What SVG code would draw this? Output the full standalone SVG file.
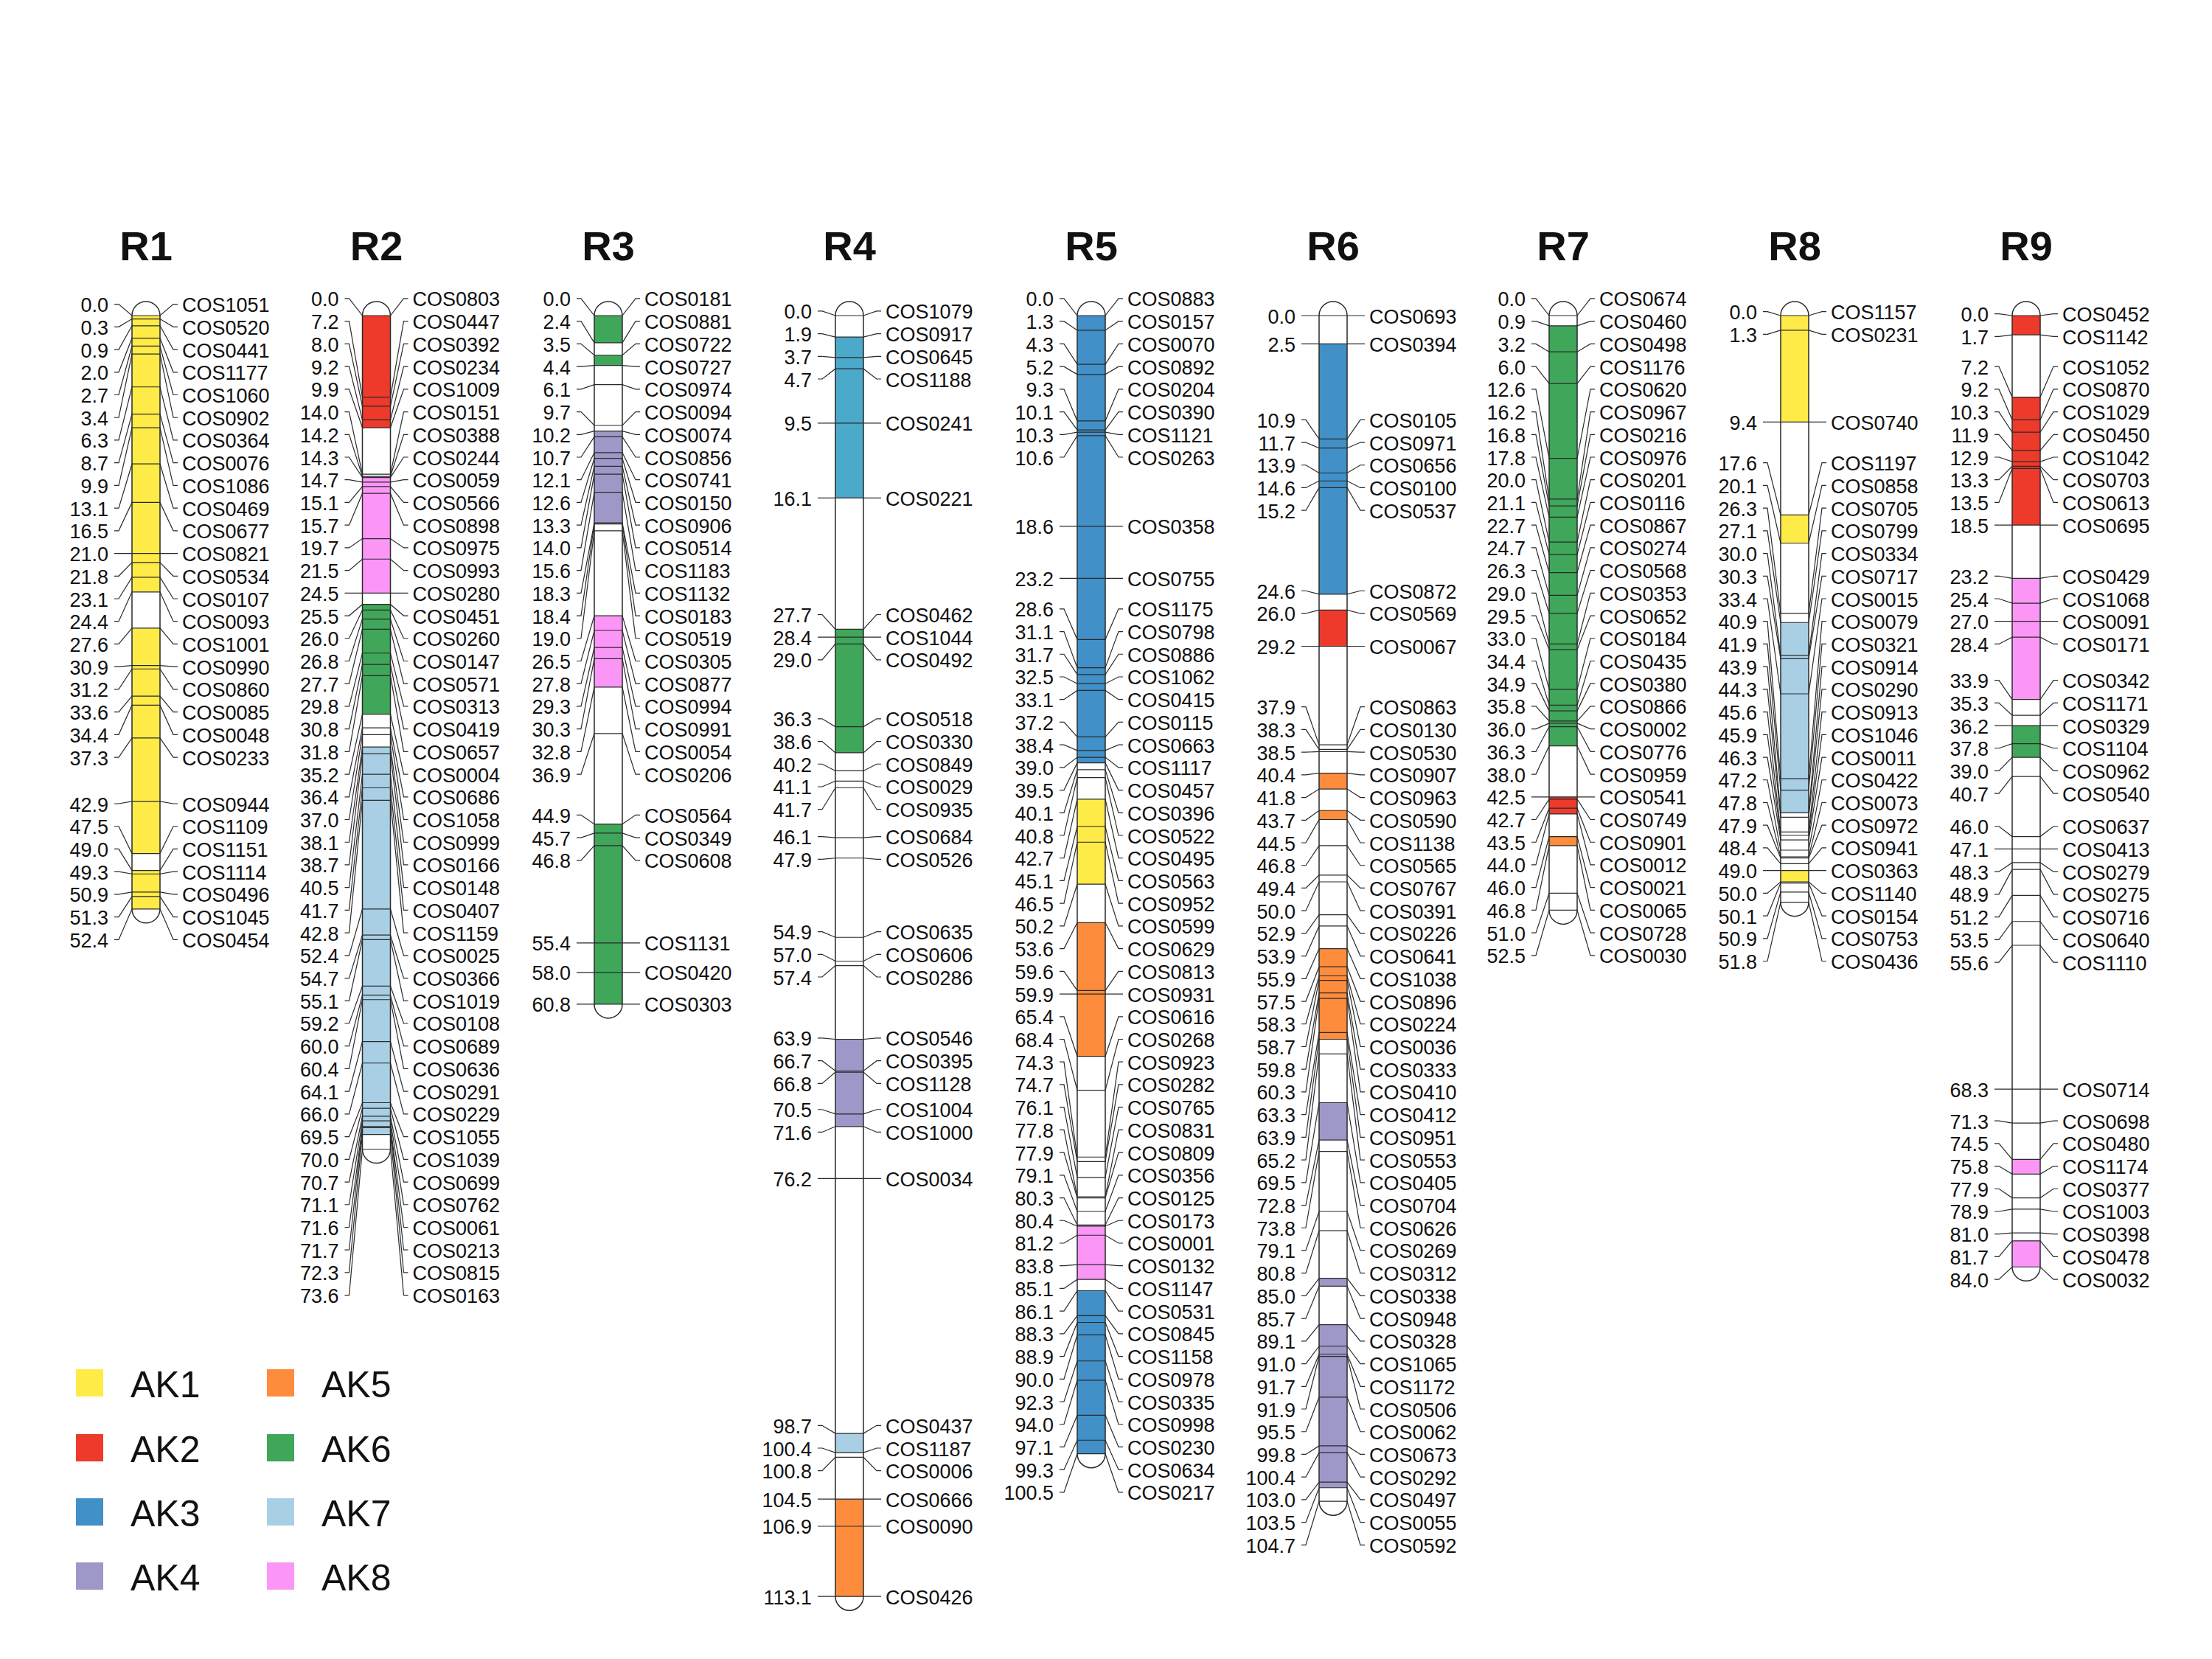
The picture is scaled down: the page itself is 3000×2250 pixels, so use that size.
<svg xmlns="http://www.w3.org/2000/svg" width="3000" height="2250" viewBox="0 0 3000 2250">
<style>
.lbl{font-family:"Liberation Sans",Arial,sans-serif;font-size:27px;fill:#111}
.l{text-anchor:end}
.ttl{font-family:"Liberation Sans",Arial,sans-serif;font-size:56px;font-weight:bold;text-anchor:middle;fill:#111}
.leg{font-family:"Liberation Sans",Arial,sans-serif;font-size:50px;fill:#111}
.ln path{fill:none;stroke:#2a2a2a;stroke-width:1.2;vector-effect:non-scaling-stroke}
.bar{fill:none;stroke:#2a2a2a;stroke-width:1.5}
.bg{fill:#fff;stroke:none}
.k1{fill:#FEEB48}.k2{fill:#EE3A2B}.k3{fill:#4190C7}.k4{fill:#9D98C7}.k5{fill:#FD8C3C}.k6{fill:#3FA65A}.k7{fill:#A9CFE5}.k8{fill:#FB96F7}.kt{fill:#4BA9C9}
</style>
<rect width="3000" height="2250" fill="#fff"/>

<g id="R1" transform="translate(198 0)">
<text class="ttl" x="0" y="353">R1</text>
<path class="bg" d="M-19 428A19 19 0 0 1 19 428V1232.86A19 19 0 0 1 -19 1232.86Z"/>
<g transform="translate(0 428) scale(1 15.36)">
<g class="seg"><rect class="k1" x="-19" y="0" width="38" height="24.4"/><rect class="k1" x="-19" y="27.6" width="38" height="19.9"/><rect class="k1" x="-19" y="49" width="38" height="3.4"/></g>
<g class="ln">
<path d="M-43 -1H-37L-19 0H19L37 -1H43"/><path d="M-43 1H-37L-19 0.3H19L37 1H43"/><path d="M-43 3H-37L-19 0.9H19L37 3H43"/><path d="M-43 5H-37L-19 2H19L37 5H43"/><path d="M-43 7H-37L-19 2.7H19L37 7H43"/><path d="M-43 9H-37L-19 3.4H19L37 9H43"/><path d="M-43 11H-37L-19 6.3H19L37 11H43"/><path d="M-43 13H-37L-19 8.7H19L37 13H43"/><path d="M-43 15H-37L-19 9.9H19L37 15H43"/><path d="M-43 17H-37L-19 13.1H19L37 17H43"/><path d="M-43 19H-37L-19 16.5H19L37 19H43"/><path d="M-43 21H-37L-19 21H19L37 21H43"/><path d="M-43 23H-37L-19 21.8H19L37 23H43"/><path d="M-43 25H-37L-19 23.1H19L37 25H43"/><path d="M-43 27H-37L-19 24.4H19L37 27H43"/><path d="M-43 29H-37L-19 27.6H19L37 29H43"/><path d="M-43 31H-37L-19 30.9H19L37 31H43"/><path d="M-43 33H-37L-19 31.2H19L37 33H43"/><path d="M-43 35H-37L-19 33.6H19L37 35H43"/><path d="M-43 37H-37L-19 34.4H19L37 37H43"/><path d="M-43 39H-37L-19 37.3H19L37 39H43"/><path d="M-43 43.1H-37L-19 42.9H19L37 43.1H43"/><path d="M-43 45.1H-37L-19 47.5H19L37 45.1H43"/><path d="M-43 47.1H-37L-19 49H19L37 47.1H43"/><path d="M-43 49.1H-37L-19 49.3H19L37 49.1H43"/><path d="M-43 51.1H-37L-19 50.9H19L37 51.1H43"/><path d="M-43 53.1H-37L-19 51.3H19L37 53.1H43"/><path d="M-43 55.1H-37L-19 52.4H19L37 55.1H43"/>
</g></g>
<path class="bar" d="M-19 428A19 19 0 0 1 19 428V1232.86A19 19 0 0 1 -19 1232.86Z"/>
<text class="lbl l"><tspan x="-51" y="423.14">0.0</tspan><tspan x="-51" dy="30.72">0.3</tspan><tspan x="-51" dy="30.72">0.9</tspan><tspan x="-51" dy="30.72">2.0</tspan><tspan x="-51" dy="30.72">2.7</tspan><tspan x="-51" dy="30.72">3.4</tspan><tspan x="-51" dy="30.72">6.3</tspan><tspan x="-51" dy="30.72">8.7</tspan><tspan x="-51" dy="30.72">9.9</tspan><tspan x="-51" dy="30.72">13.1</tspan><tspan x="-51" dy="30.72">16.5</tspan><tspan x="-51" dy="30.72">21.0</tspan><tspan x="-51" dy="30.72">21.8</tspan><tspan x="-51" dy="30.72">23.1</tspan><tspan x="-51" dy="30.72">24.4</tspan><tspan x="-51" dy="30.72">27.6</tspan><tspan x="-51" dy="30.72">30.9</tspan><tspan x="-51" dy="30.72">31.2</tspan><tspan x="-51" dy="30.72">33.6</tspan><tspan x="-51" dy="30.72">34.4</tspan><tspan x="-51" dy="30.72">37.3</tspan><tspan x="-51" y="1100.52">42.9</tspan><tspan x="-51" dy="30.72">47.5</tspan><tspan x="-51" dy="30.72">49.0</tspan><tspan x="-51" dy="30.72">49.3</tspan><tspan x="-51" dy="30.72">50.9</tspan><tspan x="-51" dy="30.72">51.3</tspan><tspan x="-51" dy="30.72">52.4</tspan></text>
<text class="lbl"><tspan x="49" y="423.14">COS1051</tspan><tspan x="49" dy="30.72">COS0520</tspan><tspan x="49" dy="30.72">COS0441</tspan><tspan x="49" dy="30.72">COS1177</tspan><tspan x="49" dy="30.72">COS1060</tspan><tspan x="49" dy="30.72">COS0902</tspan><tspan x="49" dy="30.72">COS0364</tspan><tspan x="49" dy="30.72">COS0076</tspan><tspan x="49" dy="30.72">COS1086</tspan><tspan x="49" dy="30.72">COS0469</tspan><tspan x="49" dy="30.72">COS0677</tspan><tspan x="49" dy="30.72">COS0821</tspan><tspan x="49" dy="30.72">COS0534</tspan><tspan x="49" dy="30.72">COS0107</tspan><tspan x="49" dy="30.72">COS0093</tspan><tspan x="49" dy="30.72">COS1001</tspan><tspan x="49" dy="30.72">COS0990</tspan><tspan x="49" dy="30.72">COS0860</tspan><tspan x="49" dy="30.72">COS0085</tspan><tspan x="49" dy="30.72">COS0048</tspan><tspan x="49" dy="30.72">COS0233</tspan><tspan x="49" y="1100.52">COS0944</tspan><tspan x="49" dy="30.72">COS1109</tspan><tspan x="49" dy="30.72">COS1151</tspan><tspan x="49" dy="30.72">COS1114</tspan><tspan x="49" dy="30.72">COS0496</tspan><tspan x="49" dy="30.72">COS1045</tspan><tspan x="49" dy="30.72">COS0454</tspan></text>
</g>

<g id="R2" transform="translate(510.5 0)">
<text class="ttl" x="0" y="353">R2</text>
<path class="bg" d="M-19 428A19 19 0 0 1 19 428V1558.5A19 19 0 0 1 -19 1558.5Z"/>
<g transform="translate(0 428) scale(1 15.36)">
<g class="seg"><rect class="k2" x="-19" y="0" width="38" height="9.9"/><rect class="k8" x="-19" y="14.2" width="38" height="10.3"/><rect class="k6" x="-19" y="25.5" width="38" height="9.7"/><rect class="k7" x="-19" y="38.1" width="38" height="34.2"/></g>
<g class="ln">
<path d="M-43 -1.5H-37L-19 0H19L37 -1.5H43"/><path d="M-43 0.5H-37L-19 7.2H19L37 0.5H43"/><path d="M-43 2.5H-37L-19 8H19L37 2.5H43"/><path d="M-43 4.5H-37L-19 9.2H19L37 4.5H43"/><path d="M-43 6.5H-37L-19 9.9H19L37 6.5H43"/><path d="M-43 8.5H-37L-19 14H19L37 8.5H43"/><path d="M-43 10.5H-37L-19 14.2H19L37 10.5H43"/><path d="M-43 12.5H-37L-19 14.3H19L37 12.5H43"/><path d="M-43 14.5H-37L-19 14.7H19L37 14.5H43"/><path d="M-43 16.5H-37L-19 15.1H19L37 16.5H43"/><path d="M-43 18.5H-37L-19 15.7H19L37 18.5H43"/><path d="M-43 20.5H-37L-19 19.7H19L37 20.5H43"/><path d="M-43 22.5H-37L-19 21.5H19L37 22.5H43"/><path d="M-43 24.5H-37L-19 24.5H19L37 24.5H43"/><path d="M-43 26.5H-37L-19 25.5H19L37 26.5H43"/><path d="M-43 28.5H-37L-19 26H19L37 28.5H43"/><path d="M-43 30.5H-37L-19 26.8H19L37 30.5H43"/><path d="M-43 32.5H-37L-19 27.7H19L37 32.5H43"/><path d="M-43 34.5H-37L-19 29.8H19L37 34.5H43"/><path d="M-43 36.5H-37L-19 30.8H19L37 36.5H43"/><path d="M-43 38.5H-37L-19 31.8H19L37 38.5H43"/><path d="M-43 40.5H-37L-19 35.2H19L37 40.5H43"/><path d="M-43 42.5H-37L-19 36.4H19L37 42.5H43"/><path d="M-43 44.5H-37L-19 37H19L37 44.5H43"/><path d="M-43 46.5H-37L-19 38.1H19L37 46.5H43"/><path d="M-43 48.5H-37L-19 38.7H19L37 48.5H43"/><path d="M-43 50.5H-37L-19 40.5H19L37 50.5H43"/><path d="M-43 52.5H-37L-19 41.7H19L37 52.5H43"/><path d="M-43 54.5H-37L-19 42.8H19L37 54.5H43"/><path d="M-43 56.5H-37L-19 52.4H19L37 56.5H43"/><path d="M-43 58.5H-37L-19 54.7H19L37 58.5H43"/><path d="M-43 60.5H-37L-19 55.1H19L37 60.5H43"/><path d="M-43 62.5H-37L-19 59.2H19L37 62.5H43"/><path d="M-43 64.5H-37L-19 60H19L37 64.5H43"/><path d="M-43 66.5H-37L-19 60.4H19L37 66.5H43"/><path d="M-43 68.5H-37L-19 64.1H19L37 68.5H43"/><path d="M-43 70.5H-37L-19 66H19L37 70.5H43"/><path d="M-43 72.5H-37L-19 69.5H19L37 72.5H43"/><path d="M-43 74.5H-37L-19 70H19L37 74.5H43"/><path d="M-43 76.5H-37L-19 70.7H19L37 76.5H43"/><path d="M-43 78.5H-37L-19 71.1H19L37 78.5H43"/><path d="M-43 80.5H-37L-19 71.6H19L37 80.5H43"/><path d="M-43 82.5H-37L-19 71.7H19L37 82.5H43"/><path d="M-43 84.5H-37L-19 72.3H19L37 84.5H43"/><path d="M-43 86.5H-37L-19 73.6H19L37 86.5H43"/>
</g></g>
<path class="bar" d="M-19 428A19 19 0 0 1 19 428V1558.5A19 19 0 0 1 -19 1558.5Z"/>
<text class="lbl l"><tspan x="-51" y="415.46">0.0</tspan><tspan x="-51" dy="30.72">7.2</tspan><tspan x="-51" dy="30.72">8.0</tspan><tspan x="-51" dy="30.72">9.2</tspan><tspan x="-51" dy="30.72">9.9</tspan><tspan x="-51" dy="30.72">14.0</tspan><tspan x="-51" dy="30.72">14.2</tspan><tspan x="-51" dy="30.72">14.3</tspan><tspan x="-51" dy="30.72">14.7</tspan><tspan x="-51" dy="30.72">15.1</tspan><tspan x="-51" dy="30.72">15.7</tspan><tspan x="-51" dy="30.72">19.7</tspan><tspan x="-51" dy="30.72">21.5</tspan><tspan x="-51" dy="30.72">24.5</tspan><tspan x="-51" dy="30.72">25.5</tspan><tspan x="-51" dy="30.72">26.0</tspan><tspan x="-51" dy="30.72">26.8</tspan><tspan x="-51" dy="30.72">27.7</tspan><tspan x="-51" dy="30.72">29.8</tspan><tspan x="-51" dy="30.72">30.8</tspan><tspan x="-51" dy="30.72">31.8</tspan><tspan x="-51" dy="30.72">35.2</tspan><tspan x="-51" dy="30.72">36.4</tspan><tspan x="-51" dy="30.72">37.0</tspan><tspan x="-51" dy="30.72">38.1</tspan><tspan x="-51" dy="30.72">38.7</tspan><tspan x="-51" dy="30.72">40.5</tspan><tspan x="-51" dy="30.72">41.7</tspan><tspan x="-51" dy="30.72">42.8</tspan><tspan x="-51" dy="30.72">52.4</tspan><tspan x="-51" dy="30.72">54.7</tspan><tspan x="-51" dy="30.72">55.1</tspan><tspan x="-51" dy="30.72">59.2</tspan><tspan x="-51" dy="30.72">60.0</tspan><tspan x="-51" dy="30.72">60.4</tspan><tspan x="-51" dy="30.72">64.1</tspan><tspan x="-51" dy="30.72">66.0</tspan><tspan x="-51" dy="30.72">69.5</tspan><tspan x="-51" dy="30.72">70.0</tspan><tspan x="-51" dy="30.72">70.7</tspan><tspan x="-51" dy="30.72">71.1</tspan><tspan x="-51" dy="30.72">71.6</tspan><tspan x="-51" dy="30.72">71.7</tspan><tspan x="-51" dy="30.72">72.3</tspan><tspan x="-51" dy="30.72">73.6</tspan></text>
<text class="lbl"><tspan x="49" y="415.46">COS0803</tspan><tspan x="49" dy="30.72">COS0447</tspan><tspan x="49" dy="30.72">COS0392</tspan><tspan x="49" dy="30.72">COS0234</tspan><tspan x="49" dy="30.72">COS1009</tspan><tspan x="49" dy="30.72">COS0151</tspan><tspan x="49" dy="30.72">COS0388</tspan><tspan x="49" dy="30.72">COS0244</tspan><tspan x="49" dy="30.72">COS0059</tspan><tspan x="49" dy="30.72">COS0566</tspan><tspan x="49" dy="30.72">COS0898</tspan><tspan x="49" dy="30.72">COS0975</tspan><tspan x="49" dy="30.72">COS0993</tspan><tspan x="49" dy="30.72">COS0280</tspan><tspan x="49" dy="30.72">COS0451</tspan><tspan x="49" dy="30.72">COS0260</tspan><tspan x="49" dy="30.72">COS0147</tspan><tspan x="49" dy="30.72">COS0571</tspan><tspan x="49" dy="30.72">COS0313</tspan><tspan x="49" dy="30.72">COS0419</tspan><tspan x="49" dy="30.72">COS0657</tspan><tspan x="49" dy="30.72">COS0004</tspan><tspan x="49" dy="30.72">COS0686</tspan><tspan x="49" dy="30.72">COS1058</tspan><tspan x="49" dy="30.72">COS0999</tspan><tspan x="49" dy="30.72">COS0166</tspan><tspan x="49" dy="30.72">COS0148</tspan><tspan x="49" dy="30.72">COS0407</tspan><tspan x="49" dy="30.72">COS1159</tspan><tspan x="49" dy="30.72">COS0025</tspan><tspan x="49" dy="30.72">COS0366</tspan><tspan x="49" dy="30.72">COS1019</tspan><tspan x="49" dy="30.72">COS0108</tspan><tspan x="49" dy="30.72">COS0689</tspan><tspan x="49" dy="30.72">COS0636</tspan><tspan x="49" dy="30.72">COS0291</tspan><tspan x="49" dy="30.72">COS0229</tspan><tspan x="49" dy="30.72">COS1055</tspan><tspan x="49" dy="30.72">COS1039</tspan><tspan x="49" dy="30.72">COS0699</tspan><tspan x="49" dy="30.72">COS0762</tspan><tspan x="49" dy="30.72">COS0061</tspan><tspan x="49" dy="30.72">COS0213</tspan><tspan x="49" dy="30.72">COS0815</tspan><tspan x="49" dy="30.72">COS0163</tspan></text>
</g>

<g id="R3" transform="translate(825 0)">
<text class="ttl" x="0" y="353">R3</text>
<path class="bg" d="M-19 428A19 19 0 0 1 19 428V1361.89A19 19 0 0 1 -19 1361.89Z"/>
<g transform="translate(0 428) scale(1 15.36)">
<g class="seg"><rect class="k6" x="-19" y="0" width="38" height="2.4"/><rect class="k6" x="-19" y="3.5" width="38" height="0.9"/><rect class="k4" x="-19" y="10.2" width="38" height="8.1"/><rect class="k8" x="-19" y="26.5" width="38" height="6.3"/><rect class="k6" x="-19" y="44.9" width="38" height="15.9"/></g>
<g class="ln">
<path d="M-43 -1.5H-37L-19 0H19L37 -1.5H43"/><path d="M-43 0.5H-37L-19 2.4H19L37 0.5H43"/><path d="M-43 2.5H-37L-19 3.5H19L37 2.5H43"/><path d="M-43 4.5H-37L-19 4.4H19L37 4.5H43"/><path d="M-43 6.5H-37L-19 6.1H19L37 6.5H43"/><path d="M-43 8.5H-37L-19 9.7H19L37 8.5H43"/><path d="M-43 10.5H-37L-19 10.2H19L37 10.5H43"/><path d="M-43 12.5H-37L-19 10.7H19L37 12.5H43"/><path d="M-43 14.5H-37L-19 12.1H19L37 14.5H43"/><path d="M-43 16.5H-37L-19 12.6H19L37 16.5H43"/><path d="M-43 18.5H-37L-19 13.3H19L37 18.5H43"/><path d="M-43 20.5H-37L-19 14H19L37 20.5H43"/><path d="M-43 22.5H-37L-19 15.6H19L37 22.5H43"/><path d="M-43 24.5H-37L-19 18.3H19L37 24.5H43"/><path d="M-43 26.5H-37L-19 18.4H19L37 26.5H43"/><path d="M-43 28.5H-37L-19 19H19L37 28.5H43"/><path d="M-43 30.5H-37L-19 26.5H19L37 30.5H43"/><path d="M-43 32.5H-37L-19 27.8H19L37 32.5H43"/><path d="M-43 34.5H-37L-19 29.3H19L37 34.5H43"/><path d="M-43 36.5H-37L-19 30.3H19L37 36.5H43"/><path d="M-43 38.5H-37L-19 32.8H19L37 38.5H43"/><path d="M-43 40.5H-37L-19 36.9H19L37 40.5H43"/><path d="M-43 44.1H-37L-19 44.9H19L37 44.1H43"/><path d="M-43 46.1H-37L-19 45.7H19L37 46.1H43"/><path d="M-43 48.1H-37L-19 46.8H19L37 48.1H43"/><path d="M-43 55.4H43"/><path d="M-43 58H43"/><path d="M-43 60.8H43"/>
</g></g>
<path class="bar" d="M-19 428A19 19 0 0 1 19 428V1361.89A19 19 0 0 1 -19 1361.89Z"/>
<text class="lbl l"><tspan x="-51" y="415.46">0.0</tspan><tspan x="-51" dy="30.72">2.4</tspan><tspan x="-51" dy="30.72">3.5</tspan><tspan x="-51" dy="30.72">4.4</tspan><tspan x="-51" dy="30.72">6.1</tspan><tspan x="-51" dy="30.72">9.7</tspan><tspan x="-51" dy="30.72">10.2</tspan><tspan x="-51" dy="30.72">10.7</tspan><tspan x="-51" dy="30.72">12.1</tspan><tspan x="-51" dy="30.72">12.6</tspan><tspan x="-51" dy="30.72">13.3</tspan><tspan x="-51" dy="30.72">14.0</tspan><tspan x="-51" dy="30.72">15.6</tspan><tspan x="-51" dy="30.72">18.3</tspan><tspan x="-51" dy="30.72">18.4</tspan><tspan x="-51" dy="30.72">19.0</tspan><tspan x="-51" dy="30.72">26.5</tspan><tspan x="-51" dy="30.72">27.8</tspan><tspan x="-51" dy="30.72">29.3</tspan><tspan x="-51" dy="30.72">30.3</tspan><tspan x="-51" dy="30.72">32.8</tspan><tspan x="-51" dy="30.72">36.9</tspan><tspan x="-51" y="1115.88">44.9</tspan><tspan x="-51" dy="30.72">45.7</tspan><tspan x="-51" dy="30.72">46.8</tspan><tspan x="-51" y="1289.44">55.4</tspan><tspan x="-51" y="1329.38">58.0</tspan><tspan x="-51" y="1372.39">60.8</tspan></text>
<text class="lbl"><tspan x="49" y="415.46">COS0181</tspan><tspan x="49" dy="30.72">COS0881</tspan><tspan x="49" dy="30.72">COS0722</tspan><tspan x="49" dy="30.72">COS0727</tspan><tspan x="49" dy="30.72">COS0974</tspan><tspan x="49" dy="30.72">COS0094</tspan><tspan x="49" dy="30.72">COS0074</tspan><tspan x="49" dy="30.72">COS0856</tspan><tspan x="49" dy="30.72">COS0741</tspan><tspan x="49" dy="30.72">COS0150</tspan><tspan x="49" dy="30.72">COS0906</tspan><tspan x="49" dy="30.72">COS0514</tspan><tspan x="49" dy="30.72">COS1183</tspan><tspan x="49" dy="30.72">COS1132</tspan><tspan x="49" dy="30.72">COS0183</tspan><tspan x="49" dy="30.72">COS0519</tspan><tspan x="49" dy="30.72">COS0305</tspan><tspan x="49" dy="30.72">COS0877</tspan><tspan x="49" dy="30.72">COS0994</tspan><tspan x="49" dy="30.72">COS0991</tspan><tspan x="49" dy="30.72">COS0054</tspan><tspan x="49" dy="30.72">COS0206</tspan><tspan x="49" y="1115.88">COS0564</tspan><tspan x="49" dy="30.72">COS0349</tspan><tspan x="49" dy="30.72">COS0608</tspan><tspan x="49" y="1289.44">COS1131</tspan><tspan x="49" y="1329.38">COS0420</tspan><tspan x="49" y="1372.39">COS0303</tspan></text>
</g>

<g id="R4" transform="translate(1152 0)">
<text class="ttl" x="0" y="353">R4</text>
<path class="bg" d="M-19 428A19 19 0 0 1 19 428V2165.22A19 19 0 0 1 -19 2165.22Z"/>
<g transform="translate(0 428) scale(1 15.36)">
<g class="seg"><rect class="kt" x="-19" y="1.9" width="38" height="14.2"/><rect class="k6" x="-19" y="27.7" width="38" height="10.9"/><rect class="k4" x="-19" y="63.9" width="38" height="7.7"/><rect class="k7" x="-19" y="98.7" width="38" height="1.7"/><rect class="k5" x="-19" y="104.5" width="38" height="8.6"/></g>
<g class="ln">
<path d="M-43 -0.4H-37L-19 0H19L37 -0.4H43"/><path d="M-43 1.6H-37L-19 1.9H19L37 1.6H43"/><path d="M-43 3.6H-37L-19 3.7H19L37 3.6H43"/><path d="M-43 5.6H-37L-19 4.7H19L37 5.6H43"/><path d="M-43 9.5H43"/><path d="M-43 16.1H43"/><path d="M-43 26.4H-37L-19 27.7H19L37 26.4H43"/><path d="M-43 28.4H-37L-19 28.4H19L37 28.4H43"/><path d="M-43 30.4H-37L-19 29H19L37 30.4H43"/><path d="M-43 35.6H-37L-19 36.3H19L37 35.6H43"/><path d="M-43 37.6H-37L-19 38.6H19L37 37.6H43"/><path d="M-43 39.6H-37L-19 40.2H19L37 39.6H43"/><path d="M-43 41.6H-37L-19 41.1H19L37 41.6H43"/><path d="M-43 43.6H-37L-19 41.7H19L37 43.6H43"/><path d="M-43 46H-37L-19 46.1H19L37 46H43"/><path d="M-43 48H-37L-19 47.9H19L37 48H43"/><path d="M-43 54.4H-37L-19 54.9H19L37 54.4H43"/><path d="M-43 56.4H-37L-19 57H19L37 56.4H43"/><path d="M-43 58.4H-37L-19 57.4H19L37 58.4H43"/><path d="M-43 63.8H-37L-19 63.9H19L37 63.8H43"/><path d="M-43 65.8H-37L-19 66.7H19L37 65.8H43"/><path d="M-43 67.8H-37L-19 66.8H19L37 67.8H43"/><path d="M-43 70.1H-37L-19 70.5H19L37 70.1H43"/><path d="M-43 72.1H-37L-19 71.6H19L37 72.1H43"/><path d="M-43 76.2H43"/><path d="M-43 98H-37L-19 98.7H19L37 98H43"/><path d="M-43 100H-37L-19 100.4H19L37 100H43"/><path d="M-43 102H-37L-19 100.8H19L37 102H43"/><path d="M-43 104.5H43"/><path d="M-43 106.9H43"/><path d="M-43 113.1H43"/>
</g></g>
<path class="bar" d="M-19 428A19 19 0 0 1 19 428V2165.22A19 19 0 0 1 -19 2165.22Z"/>
<text class="lbl l"><tspan x="-51" y="432.36">0.0</tspan><tspan x="-51" dy="30.72">1.9</tspan><tspan x="-51" dy="30.72">3.7</tspan><tspan x="-51" dy="30.72">4.7</tspan><tspan x="-51" y="584.42">9.5</tspan><tspan x="-51" y="685.8">16.1</tspan><tspan x="-51" y="844">27.7</tspan><tspan x="-51" dy="30.72">28.4</tspan><tspan x="-51" dy="30.72">29.0</tspan><tspan x="-51" y="985.32">36.3</tspan><tspan x="-51" dy="30.72">38.6</tspan><tspan x="-51" dy="30.72">40.2</tspan><tspan x="-51" dy="30.72">41.1</tspan><tspan x="-51" dy="30.72">41.7</tspan><tspan x="-51" y="1145.06">46.1</tspan><tspan x="-51" dy="30.72">47.9</tspan><tspan x="-51" y="1274.08">54.9</tspan><tspan x="-51" dy="30.72">57.0</tspan><tspan x="-51" dy="30.72">57.4</tspan><tspan x="-51" y="1418.47">63.9</tspan><tspan x="-51" dy="30.72">66.7</tspan><tspan x="-51" dy="30.72">66.8</tspan><tspan x="-51" y="1515.24">70.5</tspan><tspan x="-51" dy="30.72">71.6</tspan><tspan x="-51" y="1608.93">76.2</tspan><tspan x="-51" y="1943.78">98.7</tspan><tspan x="-51" dy="30.72">100.4</tspan><tspan x="-51" dy="30.72">100.8</tspan><tspan x="-51" y="2043.62">104.5</tspan><tspan x="-51" y="2080.48">106.9</tspan><tspan x="-51" y="2175.72">113.1</tspan></text>
<text class="lbl"><tspan x="49" y="432.36">COS1079</tspan><tspan x="49" dy="30.72">COS0917</tspan><tspan x="49" dy="30.72">COS0645</tspan><tspan x="49" dy="30.72">COS1188</tspan><tspan x="49" y="584.42">COS0241</tspan><tspan x="49" y="685.8">COS0221</tspan><tspan x="49" y="844">COS0462</tspan><tspan x="49" dy="30.72">COS1044</tspan><tspan x="49" dy="30.72">COS0492</tspan><tspan x="49" y="985.32">COS0518</tspan><tspan x="49" dy="30.72">COS0330</tspan><tspan x="49" dy="30.72">COS0849</tspan><tspan x="49" dy="30.72">COS0029</tspan><tspan x="49" dy="30.72">COS0935</tspan><tspan x="49" y="1145.06">COS0684</tspan><tspan x="49" dy="30.72">COS0526</tspan><tspan x="49" y="1274.08">COS0635</tspan><tspan x="49" dy="30.72">COS0606</tspan><tspan x="49" dy="30.72">COS0286</tspan><tspan x="49" y="1418.47">COS0546</tspan><tspan x="49" dy="30.72">COS0395</tspan><tspan x="49" dy="30.72">COS1128</tspan><tspan x="49" y="1515.24">COS1004</tspan><tspan x="49" dy="30.72">COS1000</tspan><tspan x="49" y="1608.93">COS0034</tspan><tspan x="49" y="1943.78">COS0437</tspan><tspan x="49" dy="30.72">COS1187</tspan><tspan x="49" dy="30.72">COS0006</tspan><tspan x="49" y="2043.62">COS0666</tspan><tspan x="49" y="2080.48">COS0090</tspan><tspan x="49" y="2175.72">COS0426</tspan></text>
</g>

<g id="R5" transform="translate(1480 0)">
<text class="ttl" x="0" y="353">R5</text>
<path class="bg" d="M-19 428A19 19 0 0 1 19 428V1971.68A19 19 0 0 1 -19 1971.68Z"/>
<g transform="translate(0 428) scale(1 15.36)">
<g class="seg"><rect class="k3" x="-19" y="0" width="38" height="39.5"/><rect class="k1" x="-19" y="42.7" width="38" height="7.5"/><rect class="k5" x="-19" y="53.6" width="38" height="11.8"/><rect class="k8" x="-19" y="80.4" width="38" height="4.7"/><rect class="k3" x="-19" y="86.1" width="38" height="14.4"/></g>
<g class="ln">
<path d="M-43 -1.5H-37L-19 0H19L37 -1.5H43"/><path d="M-43 0.5H-37L-19 1.3H19L37 0.5H43"/><path d="M-43 2.5H-37L-19 4.3H19L37 2.5H43"/><path d="M-43 4.5H-37L-19 5.2H19L37 4.5H43"/><path d="M-43 6.5H-37L-19 9.3H19L37 6.5H43"/><path d="M-43 8.5H-37L-19 10.1H19L37 8.5H43"/><path d="M-43 10.5H-37L-19 10.3H19L37 10.5H43"/><path d="M-43 12.5H-37L-19 10.6H19L37 12.5H43"/><path d="M-43 18.6H43"/><path d="M-43 23.2H43"/>
<path d="M-43 25.9H-37L-19 28.6H19L37 25.9H43"/><path d="M-43 27.9H-37L-19 31.1H19L37 27.9H43"/><path d="M-43 29.9H-37L-19 31.7H19L37 29.9H43"/><path d="M-43 31.9H-37L-19 32.5H19L37 31.9H43"/><path d="M-43 33.9H-37L-19 33.1H19L37 33.9H43"/><path d="M-43 35.9H-37L-19 37.2H19L37 35.9H43"/><path d="M-43 37.9H-37L-19 38.4H19L37 37.9H43"/><path d="M-43 39.9H-37L-19 39H19L37 39.9H43"/><path d="M-43 41.9H-37L-19 39.5H19L37 41.9H43"/><path d="M-43 43.9H-37L-19 40.1H19L37 43.9H43"/><path d="M-43 45.9H-37L-19 40.8H19L37 45.9H43"/><path d="M-43 47.9H-37L-19 42.7H19L37 47.9H43"/><path d="M-43 49.9H-37L-19 45.1H19L37 49.9H43"/><path d="M-43 51.9H-37L-19 46.5H19L37 51.9H43"/><path d="M-43 53.9H-37L-19 50.2H19L37 53.9H43"/><path d="M-43 55.9H-37L-19 53.6H19L37 55.9H43"/><path d="M-43 57.9H-37L-19 59.6H19L37 57.9H43"/><path d="M-43 59.9H-37L-19 59.9H19L37 59.9H43"/><path d="M-43 61.9H-37L-19 65.4H19L37 61.9H43"/><path d="M-43 63.9H-37L-19 68.4H19L37 63.9H43"/><path d="M-43 65.9H-37L-19 74.3H19L37 65.9H43"/><path d="M-43 67.9H-37L-19 74.7H19L37 67.9H43"/><path d="M-43 69.9H-37L-19 76.1H19L37 69.9H43"/><path d="M-43 71.9H-37L-19 77.8H19L37 71.9H43"/><path d="M-43 73.9H-37L-19 77.9H19L37 73.9H43"/><path d="M-43 75.9H-37L-19 79.1H19L37 75.9H43"/><path d="M-43 77.9H-37L-19 80.3H19L37 77.9H43"/><path d="M-43 79.9H-37L-19 80.4H19L37 79.9H43"/><path d="M-43 81.9H-37L-19 81.2H19L37 81.9H43"/><path d="M-43 83.9H-37L-19 83.8H19L37 83.9H43"/><path d="M-43 85.9H-37L-19 85.1H19L37 85.9H43"/><path d="M-43 87.9H-37L-19 86.1H19L37 87.9H43"/><path d="M-43 89.9H-37L-19 88.3H19L37 89.9H43"/><path d="M-43 91.9H-37L-19 88.9H19L37 91.9H43"/><path d="M-43 93.9H-37L-19 90H19L37 93.9H43"/><path d="M-43 95.9H-37L-19 92.3H19L37 95.9H43"/><path d="M-43 97.9H-37L-19 94H19L37 97.9H43"/><path d="M-43 99.9H-37L-19 97.1H19L37 99.9H43"/><path d="M-43 101.9H-37L-19 99.3H19L37 101.9H43"/><path d="M-43 103.9H-37L-19 100.5H19L37 103.9H43"/>
</g></g>
<path class="bar" d="M-19 428A19 19 0 0 1 19 428V1971.68A19 19 0 0 1 -19 1971.68Z"/>
<text class="lbl l"><tspan x="-51" y="415.46">0.0</tspan><tspan x="-51" dy="30.72">1.3</tspan><tspan x="-51" dy="30.72">4.3</tspan><tspan x="-51" dy="30.72">5.2</tspan><tspan x="-51" dy="30.72">9.3</tspan><tspan x="-51" dy="30.72">10.1</tspan><tspan x="-51" dy="30.72">10.3</tspan><tspan x="-51" dy="30.72">10.6</tspan><tspan x="-51" y="724.2">18.6</tspan><tspan x="-51" y="794.85">23.2</tspan><tspan x="-51" y="836.32">28.6</tspan><tspan x="-51" dy="30.72">31.1</tspan><tspan x="-51" dy="30.72">31.7</tspan><tspan x="-51" dy="30.72">32.5</tspan><tspan x="-51" dy="30.72">33.1</tspan><tspan x="-51" dy="30.72">37.2</tspan><tspan x="-51" dy="30.72">38.4</tspan><tspan x="-51" dy="30.72">39.0</tspan><tspan x="-51" dy="30.72">39.5</tspan><tspan x="-51" dy="30.72">40.1</tspan><tspan x="-51" dy="30.72">40.8</tspan><tspan x="-51" dy="30.72">42.7</tspan><tspan x="-51" dy="30.72">45.1</tspan><tspan x="-51" dy="30.72">46.5</tspan><tspan x="-51" dy="30.72">50.2</tspan><tspan x="-51" dy="30.72">53.6</tspan><tspan x="-51" dy="30.72">59.6</tspan><tspan x="-51" dy="30.72">59.9</tspan><tspan x="-51" dy="30.72">65.4</tspan><tspan x="-51" dy="30.72">68.4</tspan><tspan x="-51" dy="30.72">74.3</tspan><tspan x="-51" dy="30.72">74.7</tspan><tspan x="-51" dy="30.72">76.1</tspan><tspan x="-51" dy="30.72">77.8</tspan><tspan x="-51" dy="30.72">77.9</tspan><tspan x="-51" dy="30.72">79.1</tspan><tspan x="-51" dy="30.72">80.3</tspan><tspan x="-51" dy="30.72">80.4</tspan><tspan x="-51" dy="30.72">81.2</tspan><tspan x="-51" dy="30.72">83.8</tspan><tspan x="-51" dy="30.72">85.1</tspan><tspan x="-51" dy="30.72">86.1</tspan><tspan x="-51" dy="30.72">88.3</tspan><tspan x="-51" dy="30.72">88.9</tspan><tspan x="-51" dy="30.72">90.0</tspan><tspan x="-51" dy="30.72">92.3</tspan><tspan x="-51" dy="30.72">94.0</tspan><tspan x="-51" dy="30.72">97.1</tspan><tspan x="-51" dy="30.72">99.3</tspan><tspan x="-51" dy="30.72">100.5</tspan></text>
<text class="lbl"><tspan x="49" y="415.46">COS0883</tspan><tspan x="49" dy="30.72">COS0157</tspan><tspan x="49" dy="30.72">COS0070</tspan><tspan x="49" dy="30.72">COS0892</tspan><tspan x="49" dy="30.72">COS0204</tspan><tspan x="49" dy="30.72">COS0390</tspan><tspan x="49" dy="30.72">COS1121</tspan><tspan x="49" dy="30.72">COS0263</tspan><tspan x="49" y="724.2">COS0358</tspan><tspan x="49" y="794.85">COS0755</tspan><tspan x="49" y="836.32">COS1175</tspan><tspan x="49" dy="30.72">COS0798</tspan><tspan x="49" dy="30.72">COS0886</tspan><tspan x="49" dy="30.72">COS1062</tspan><tspan x="49" dy="30.72">COS0415</tspan><tspan x="49" dy="30.72">COS0115</tspan><tspan x="49" dy="30.72">COS0663</tspan><tspan x="49" dy="30.72">COS1117</tspan><tspan x="49" dy="30.72">COS0457</tspan><tspan x="49" dy="30.72">COS0396</tspan><tspan x="49" dy="30.72">COS0522</tspan><tspan x="49" dy="30.72">COS0495</tspan><tspan x="49" dy="30.72">COS0563</tspan><tspan x="49" dy="30.72">COS0952</tspan><tspan x="49" dy="30.72">COS0599</tspan><tspan x="49" dy="30.72">COS0629</tspan><tspan x="49" dy="30.72">COS0813</tspan><tspan x="49" dy="30.72">COS0931</tspan><tspan x="49" dy="30.72">COS0616</tspan><tspan x="49" dy="30.72">COS0268</tspan><tspan x="49" dy="30.72">COS0923</tspan><tspan x="49" dy="30.72">COS0282</tspan><tspan x="49" dy="30.72">COS0765</tspan><tspan x="49" dy="30.72">COS0831</tspan><tspan x="49" dy="30.72">COS0809</tspan><tspan x="49" dy="30.72">COS0356</tspan><tspan x="49" dy="30.72">COS0125</tspan><tspan x="49" dy="30.72">COS0173</tspan><tspan x="49" dy="30.72">COS0001</tspan><tspan x="49" dy="30.72">COS0132</tspan><tspan x="49" dy="30.72">COS1147</tspan><tspan x="49" dy="30.72">COS0531</tspan><tspan x="49" dy="30.72">COS0845</tspan><tspan x="49" dy="30.72">COS1158</tspan><tspan x="49" dy="30.72">COS0978</tspan><tspan x="49" dy="30.72">COS0335</tspan><tspan x="49" dy="30.72">COS0998</tspan><tspan x="49" dy="30.72">COS0230</tspan><tspan x="49" dy="30.72">COS0634</tspan><tspan x="49" dy="30.72">COS0217</tspan></text>
</g>

<g id="R6" transform="translate(1808 0)">
<text class="ttl" x="0" y="353">R6</text>
<path class="bg" d="M-19 428A19 19 0 0 1 19 428V2036.19A19 19 0 0 1 -19 2036.19Z"/>
<g transform="translate(0 428) scale(1 15.36)">
<g class="seg"><rect class="k3" x="-19" y="2.5" width="38" height="22.1"/><rect class="k2" x="-19" y="26" width="38" height="3.2"/><rect class="k5" x="-19" y="40.4" width="38" height="1.4"/><rect class="k5" x="-19" y="43.7" width="38" height="0.8"/><rect class="k5" x="-19" y="55.9" width="38" height="8"/><rect class="k4" x="-19" y="69.5" width="38" height="3.3"/><rect class="k4" x="-19" y="85" width="38" height="0.7"/><rect class="k4" x="-19" y="89.1" width="38" height="14.4"/></g>
<g class="ln">
<path d="M-43 0H43"/><path d="M-43 2.5H43"/><path d="M-43 9.2H-37L-19 10.9H19L37 9.2H43"/><path d="M-43 11.2H-37L-19 11.7H19L37 11.2H43"/><path d="M-43 13.2H-37L-19 13.9H19L37 13.2H43"/><path d="M-43 15.2H-37L-19 14.6H19L37 15.2H43"/><path d="M-43 17.2H-37L-19 15.2H19L37 17.2H43"/><path d="M-43 24.3H-37L-19 24.6H19L37 24.3H43"/><path d="M-43 26.3H-37L-19 26H19L37 26.3H43"/><path d="M-43 29.2H43"/>
<path d="M-43 34.55H-37L-19 37.9H19L37 34.55H43"/><path d="M-43 36.55H-37L-19 38.3H19L37 36.55H43"/><path d="M-43 38.55H-37L-19 38.5H19L37 38.55H43"/><path d="M-43 40.55H-37L-19 40.4H19L37 40.55H43"/><path d="M-43 42.55H-37L-19 41.8H19L37 42.55H43"/><path d="M-43 44.55H-37L-19 43.7H19L37 44.55H43"/><path d="M-43 46.55H-37L-19 44.5H19L37 46.55H43"/><path d="M-43 48.55H-37L-19 46.8H19L37 48.55H43"/><path d="M-43 50.55H-37L-19 49.4H19L37 50.55H43"/><path d="M-43 52.55H-37L-19 50H19L37 52.55H43"/><path d="M-43 54.55H-37L-19 52.9H19L37 54.55H43"/><path d="M-43 56.55H-37L-19 53.9H19L37 56.55H43"/><path d="M-43 58.55H-37L-19 55.9H19L37 58.55H43"/><path d="M-43 60.55H-37L-19 57.5H19L37 60.55H43"/><path d="M-43 62.55H-37L-19 58.3H19L37 62.55H43"/><path d="M-43 64.55H-37L-19 58.7H19L37 64.55H43"/><path d="M-43 66.55H-37L-19 59.8H19L37 66.55H43"/><path d="M-43 68.55H-37L-19 60.3H19L37 68.55H43"/><path d="M-43 70.55H-37L-19 63.3H19L37 70.55H43"/><path d="M-43 72.55H-37L-19 63.9H19L37 72.55H43"/><path d="M-43 74.55H-37L-19 65.2H19L37 74.55H43"/><path d="M-43 76.55H-37L-19 69.5H19L37 76.55H43"/><path d="M-43 78.55H-37L-19 72.8H19L37 78.55H43"/><path d="M-43 80.55H-37L-19 73.8H19L37 80.55H43"/><path d="M-43 82.55H-37L-19 79.1H19L37 82.55H43"/><path d="M-43 84.55H-37L-19 80.8H19L37 84.55H43"/><path d="M-43 86.55H-37L-19 85H19L37 86.55H43"/><path d="M-43 88.55H-37L-19 85.7H19L37 88.55H43"/><path d="M-43 90.55H-37L-19 89.1H19L37 90.55H43"/><path d="M-43 92.55H-37L-19 91H19L37 92.55H43"/><path d="M-43 94.55H-37L-19 91.7H19L37 94.55H43"/><path d="M-43 96.55H-37L-19 91.9H19L37 96.55H43"/><path d="M-43 98.55H-37L-19 95.5H19L37 98.55H43"/><path d="M-43 100.55H-37L-19 99.8H19L37 100.55H43"/><path d="M-43 102.55H-37L-19 100.4H19L37 102.55H43"/><path d="M-43 104.55H-37L-19 103H19L37 104.55H43"/><path d="M-43 106.55H-37L-19 103.5H19L37 106.55H43"/><path d="M-43 108.55H-37L-19 104.7H19L37 108.55H43"/>
</g></g>
<path class="bar" d="M-19 428A19 19 0 0 1 19 428V2036.19A19 19 0 0 1 -19 2036.19Z"/>
<text class="lbl l"><tspan x="-51" y="438.5">0.0</tspan><tspan x="-51" y="476.9">2.5</tspan><tspan x="-51" y="579.81">10.9</tspan><tspan x="-51" dy="30.72">11.7</tspan><tspan x="-51" dy="30.72">13.9</tspan><tspan x="-51" dy="30.72">14.6</tspan><tspan x="-51" dy="30.72">15.2</tspan><tspan x="-51" y="811.75">24.6</tspan><tspan x="-51" dy="30.72">26.0</tspan><tspan x="-51" y="887.01">29.2</tspan><tspan x="-51" y="969.19">37.9</tspan><tspan x="-51" dy="30.72">38.3</tspan><tspan x="-51" dy="30.72">38.5</tspan><tspan x="-51" dy="30.72">40.4</tspan><tspan x="-51" dy="30.72">41.8</tspan><tspan x="-51" dy="30.72">43.7</tspan><tspan x="-51" dy="30.72">44.5</tspan><tspan x="-51" dy="30.72">46.8</tspan><tspan x="-51" dy="30.72">49.4</tspan><tspan x="-51" dy="30.72">50.0</tspan><tspan x="-51" dy="30.72">52.9</tspan><tspan x="-51" dy="30.72">53.9</tspan><tspan x="-51" dy="30.72">55.9</tspan><tspan x="-51" dy="30.72">57.5</tspan><tspan x="-51" dy="30.72">58.3</tspan><tspan x="-51" dy="30.72">58.7</tspan><tspan x="-51" dy="30.72">59.8</tspan><tspan x="-51" dy="30.72">60.3</tspan><tspan x="-51" dy="30.72">63.3</tspan><tspan x="-51" dy="30.72">63.9</tspan><tspan x="-51" dy="30.72">65.2</tspan><tspan x="-51" dy="30.72">69.5</tspan><tspan x="-51" dy="30.72">72.8</tspan><tspan x="-51" dy="30.72">73.8</tspan><tspan x="-51" dy="30.72">79.1</tspan><tspan x="-51" dy="30.72">80.8</tspan><tspan x="-51" dy="30.72">85.0</tspan><tspan x="-51" dy="30.72">85.7</tspan><tspan x="-51" dy="30.72">89.1</tspan><tspan x="-51" dy="30.72">91.0</tspan><tspan x="-51" dy="30.72">91.7</tspan><tspan x="-51" dy="30.72">91.9</tspan><tspan x="-51" dy="30.72">95.5</tspan><tspan x="-51" dy="30.72">99.8</tspan><tspan x="-51" dy="30.72">100.4</tspan><tspan x="-51" dy="30.72">103.0</tspan><tspan x="-51" dy="30.72">103.5</tspan><tspan x="-51" dy="30.72">104.7</tspan></text>
<text class="lbl"><tspan x="49" y="438.5">COS0693</tspan><tspan x="49" y="476.9">COS0394</tspan><tspan x="49" y="579.81">COS0105</tspan><tspan x="49" dy="30.72">COS0971</tspan><tspan x="49" dy="30.72">COS0656</tspan><tspan x="49" dy="30.72">COS0100</tspan><tspan x="49" dy="30.72">COS0537</tspan><tspan x="49" y="811.75">COS0872</tspan><tspan x="49" dy="30.72">COS0569</tspan><tspan x="49" y="887.01">COS0067</tspan><tspan x="49" y="969.19">COS0863</tspan><tspan x="49" dy="30.72">COS0130</tspan><tspan x="49" dy="30.72">COS0530</tspan><tspan x="49" dy="30.72">COS0907</tspan><tspan x="49" dy="30.72">COS0963</tspan><tspan x="49" dy="30.72">COS0590</tspan><tspan x="49" dy="30.72">COS1138</tspan><tspan x="49" dy="30.72">COS0565</tspan><tspan x="49" dy="30.72">COS0767</tspan><tspan x="49" dy="30.72">COS0391</tspan><tspan x="49" dy="30.72">COS0226</tspan><tspan x="49" dy="30.72">COS0641</tspan><tspan x="49" dy="30.72">COS1038</tspan><tspan x="49" dy="30.72">COS0896</tspan><tspan x="49" dy="30.72">COS0224</tspan><tspan x="49" dy="30.72">COS0036</tspan><tspan x="49" dy="30.72">COS0333</tspan><tspan x="49" dy="30.72">COS0410</tspan><tspan x="49" dy="30.72">COS0412</tspan><tspan x="49" dy="30.72">COS0951</tspan><tspan x="49" dy="30.72">COS0553</tspan><tspan x="49" dy="30.72">COS0405</tspan><tspan x="49" dy="30.72">COS0704</tspan><tspan x="49" dy="30.72">COS0626</tspan><tspan x="49" dy="30.72">COS0269</tspan><tspan x="49" dy="30.72">COS0312</tspan><tspan x="49" dy="30.72">COS0338</tspan><tspan x="49" dy="30.72">COS0948</tspan><tspan x="49" dy="30.72">COS0328</tspan><tspan x="49" dy="30.72">COS1065</tspan><tspan x="49" dy="30.72">COS1172</tspan><tspan x="49" dy="30.72">COS0506</tspan><tspan x="49" dy="30.72">COS0062</tspan><tspan x="49" dy="30.72">COS0673</tspan><tspan x="49" dy="30.72">COS0292</tspan><tspan x="49" dy="30.72">COS0497</tspan><tspan x="49" dy="30.72">COS0055</tspan><tspan x="49" dy="30.72">COS0592</tspan></text>
</g>

<g id="R7" transform="translate(2120 0)">
<text class="ttl" x="0" y="353">R7</text>
<path class="bg" d="M-19 428A19 19 0 0 1 19 428V1234.4A19 19 0 0 1 -19 1234.4Z"/>
<g transform="translate(0 428) scale(1 15.36)">
<g class="seg"><rect class="k6" x="-19" y="0.9" width="38" height="37.1"/><rect class="k2" x="-19" y="42.5" width="38" height="1.5"/><rect class="k5" x="-19" y="46" width="38" height="0.8"/></g>
<g class="ln">
<path d="M-43 -1.5H-37L-19 0H19L37 -1.5H43"/><path d="M-43 0.5H-37L-19 0.9H19L37 0.5H43"/><path d="M-43 2.5H-37L-19 3.2H19L37 2.5H43"/><path d="M-43 4.5H-37L-19 6H19L37 4.5H43"/><path d="M-43 6.5H-37L-19 12.6H19L37 6.5H43"/><path d="M-43 8.5H-37L-19 16.2H19L37 8.5H43"/><path d="M-43 10.5H-37L-19 16.8H19L37 10.5H43"/><path d="M-43 12.5H-37L-19 17.8H19L37 12.5H43"/><path d="M-43 14.5H-37L-19 20H19L37 14.5H43"/><path d="M-43 16.5H-37L-19 21.1H19L37 16.5H43"/><path d="M-43 18.5H-37L-19 22.7H19L37 18.5H43"/><path d="M-43 20.5H-37L-19 24.7H19L37 20.5H43"/><path d="M-43 22.5H-37L-19 26.3H19L37 22.5H43"/><path d="M-43 24.5H-37L-19 29H19L37 24.5H43"/><path d="M-43 26.5H-37L-19 29.5H19L37 26.5H43"/><path d="M-43 28.5H-37L-19 33H19L37 28.5H43"/><path d="M-43 30.5H-37L-19 34.4H19L37 30.5H43"/><path d="M-43 32.5H-37L-19 34.9H19L37 32.5H43"/><path d="M-43 34.5H-37L-19 35.8H19L37 34.5H43"/><path d="M-43 36.5H-37L-19 36H19L37 36.5H43"/><path d="M-43 38.5H-37L-19 36.3H19L37 38.5H43"/><path d="M-43 40.5H-37L-19 38H19L37 40.5H43"/><path d="M-43 42.5H-37L-19 42.5H19L37 42.5H43"/><path d="M-43 44.5H-37L-19 42.7H19L37 44.5H43"/><path d="M-43 46.5H-37L-19 43.5H19L37 46.5H43"/><path d="M-43 48.5H-37L-19 44H19L37 48.5H43"/><path d="M-43 50.5H-37L-19 46H19L37 50.5H43"/><path d="M-43 52.5H-37L-19 46.8H19L37 52.5H43"/><path d="M-43 54.5H-37L-19 51H19L37 54.5H43"/><path d="M-43 56.5H-37L-19 52.5H19L37 56.5H43"/>
</g></g>
<path class="bar" d="M-19 428A19 19 0 0 1 19 428V1234.4A19 19 0 0 1 -19 1234.4Z"/>
<text class="lbl l"><tspan x="-51" y="415.46">0.0</tspan><tspan x="-51" dy="30.72">0.9</tspan><tspan x="-51" dy="30.72">3.2</tspan><tspan x="-51" dy="30.72">6.0</tspan><tspan x="-51" dy="30.72">12.6</tspan><tspan x="-51" dy="30.72">16.2</tspan><tspan x="-51" dy="30.72">16.8</tspan><tspan x="-51" dy="30.72">17.8</tspan><tspan x="-51" dy="30.72">20.0</tspan><tspan x="-51" dy="30.72">21.1</tspan><tspan x="-51" dy="30.72">22.7</tspan><tspan x="-51" dy="30.72">24.7</tspan><tspan x="-51" dy="30.72">26.3</tspan><tspan x="-51" dy="30.72">29.0</tspan><tspan x="-51" dy="30.72">29.5</tspan><tspan x="-51" dy="30.72">33.0</tspan><tspan x="-51" dy="30.72">34.4</tspan><tspan x="-51" dy="30.72">34.9</tspan><tspan x="-51" dy="30.72">35.8</tspan><tspan x="-51" dy="30.72">36.0</tspan><tspan x="-51" dy="30.72">36.3</tspan><tspan x="-51" dy="30.72">38.0</tspan><tspan x="-51" dy="30.72">42.5</tspan><tspan x="-51" dy="30.72">42.7</tspan><tspan x="-51" dy="30.72">43.5</tspan><tspan x="-51" dy="30.72">44.0</tspan><tspan x="-51" dy="30.72">46.0</tspan><tspan x="-51" dy="30.72">46.8</tspan><tspan x="-51" dy="30.72">51.0</tspan><tspan x="-51" dy="30.72">52.5</tspan></text>
<text class="lbl"><tspan x="49" y="415.46">COS0674</tspan><tspan x="49" dy="30.72">COS0460</tspan><tspan x="49" dy="30.72">COS0498</tspan><tspan x="49" dy="30.72">COS1176</tspan><tspan x="49" dy="30.72">COS0620</tspan><tspan x="49" dy="30.72">COS0967</tspan><tspan x="49" dy="30.72">COS0216</tspan><tspan x="49" dy="30.72">COS0976</tspan><tspan x="49" dy="30.72">COS0201</tspan><tspan x="49" dy="30.72">COS0116</tspan><tspan x="49" dy="30.72">COS0867</tspan><tspan x="49" dy="30.72">COS0274</tspan><tspan x="49" dy="30.72">COS0568</tspan><tspan x="49" dy="30.72">COS0353</tspan><tspan x="49" dy="30.72">COS0652</tspan><tspan x="49" dy="30.72">COS0184</tspan><tspan x="49" dy="30.72">COS0435</tspan><tspan x="49" dy="30.72">COS0380</tspan><tspan x="49" dy="30.72">COS0866</tspan><tspan x="49" dy="30.72">COS0002</tspan><tspan x="49" dy="30.72">COS0776</tspan><tspan x="49" dy="30.72">COS0959</tspan><tspan x="49" dy="30.72">COS0541</tspan><tspan x="49" dy="30.72">COS0749</tspan><tspan x="49" dy="30.72">COS0901</tspan><tspan x="49" dy="30.72">COS0012</tspan><tspan x="49" dy="30.72">COS0021</tspan><tspan x="49" dy="30.72">COS0065</tspan><tspan x="49" dy="30.72">COS0728</tspan><tspan x="49" dy="30.72">COS0030</tspan></text>
</g>

<g id="R8" transform="translate(2434 0)">
<text class="ttl" x="0" y="353">R8</text>
<path class="bg" d="M-19 428A19 19 0 0 1 19 428V1223.65A19 19 0 0 1 -19 1223.65Z"/>
<g transform="translate(0 428) scale(1 15.36)">
<g class="seg"><rect class="k1" x="-19" y="0" width="38" height="9.4"/><rect class="k1" x="-19" y="17.6" width="38" height="2.5"/><rect class="k7" x="-19" y="27.1" width="38" height="16.8"/><rect class="k1" x="-19" y="49" width="38" height="1"/></g>
<g class="ln">
<path d="M-43 -0.35H-37L-19 0H19L37 -0.35H43"/><path d="M-43 1.65H-37L-19 1.3H19L37 1.65H43"/><path d="M-43 9.4H43"/>
<path d="M-43 13H-37L-19 17.6H19L37 13H43"/><path d="M-43 15H-37L-19 20.1H19L37 15H43"/><path d="M-43 17H-37L-19 26.3H19L37 17H43"/><path d="M-43 19H-37L-19 27.1H19L37 19H43"/><path d="M-43 21H-37L-19 30H19L37 21H43"/><path d="M-43 23H-37L-19 30.3H19L37 23H43"/><path d="M-43 25H-37L-19 33.4H19L37 25H43"/><path d="M-43 27H-37L-19 40.9H19L37 27H43"/><path d="M-43 29H-37L-19 41.9H19L37 29H43"/><path d="M-43 31H-37L-19 43.9H19L37 31H43"/><path d="M-43 33H-37L-19 44.3H19L37 33H43"/><path d="M-43 35H-37L-19 45.6H19L37 35H43"/><path d="M-43 37H-37L-19 45.9H19L37 37H43"/><path d="M-43 39H-37L-19 46.3H19L37 39H43"/><path d="M-43 41H-37L-19 47.2H19L37 41H43"/><path d="M-43 43H-37L-19 47.8H19L37 43H43"/><path d="M-43 45H-37L-19 47.9H19L37 45H43"/><path d="M-43 47H-37L-19 48.4H19L37 47H43"/><path d="M-43 49H-37L-19 49H19L37 49H43"/><path d="M-43 51H-37L-19 50H19L37 51H43"/><path d="M-43 53H-37L-19 50.1H19L37 53H43"/><path d="M-43 55H-37L-19 50.9H19L37 55H43"/><path d="M-43 57H-37L-19 51.8H19L37 57H43"/>
</g></g>
<path class="bar" d="M-19 428A19 19 0 0 1 19 428V1223.65A19 19 0 0 1 -19 1223.65Z"/>
<text class="lbl l"><tspan x="-51" y="433.12">0.0</tspan><tspan x="-51" dy="30.72">1.3</tspan><tspan x="-51" y="582.88">9.4</tspan><tspan x="-51" y="638.18">17.6</tspan><tspan x="-51" dy="30.72">20.1</tspan><tspan x="-51" dy="30.72">26.3</tspan><tspan x="-51" dy="30.72">27.1</tspan><tspan x="-51" dy="30.72">30.0</tspan><tspan x="-51" dy="30.72">30.3</tspan><tspan x="-51" dy="30.72">33.4</tspan><tspan x="-51" dy="30.72">40.9</tspan><tspan x="-51" dy="30.72">41.9</tspan><tspan x="-51" dy="30.72">43.9</tspan><tspan x="-51" dy="30.72">44.3</tspan><tspan x="-51" dy="30.72">45.6</tspan><tspan x="-51" dy="30.72">45.9</tspan><tspan x="-51" dy="30.72">46.3</tspan><tspan x="-51" dy="30.72">47.2</tspan><tspan x="-51" dy="30.72">47.8</tspan><tspan x="-51" dy="30.72">47.9</tspan><tspan x="-51" dy="30.72">48.4</tspan><tspan x="-51" dy="30.72">49.0</tspan><tspan x="-51" dy="30.72">50.0</tspan><tspan x="-51" dy="30.72">50.1</tspan><tspan x="-51" dy="30.72">50.9</tspan><tspan x="-51" dy="30.72">51.8</tspan></text>
<text class="lbl"><tspan x="49" y="433.12">COS1157</tspan><tspan x="49" dy="30.72">COS0231</tspan><tspan x="49" y="582.88">COS0740</tspan><tspan x="49" y="638.18">COS1197</tspan><tspan x="49" dy="30.72">COS0858</tspan><tspan x="49" dy="30.72">COS0705</tspan><tspan x="49" dy="30.72">COS0799</tspan><tspan x="49" dy="30.72">COS0334</tspan><tspan x="49" dy="30.72">COS0717</tspan><tspan x="49" dy="30.72">COS0015</tspan><tspan x="49" dy="30.72">COS0079</tspan><tspan x="49" dy="30.72">COS0321</tspan><tspan x="49" dy="30.72">COS0914</tspan><tspan x="49" dy="30.72">COS0290</tspan><tspan x="49" dy="30.72">COS0913</tspan><tspan x="49" dy="30.72">COS1046</tspan><tspan x="49" dy="30.72">COS0011</tspan><tspan x="49" dy="30.72">COS0422</tspan><tspan x="49" dy="30.72">COS0073</tspan><tspan x="49" dy="30.72">COS0972</tspan><tspan x="49" dy="30.72">COS0941</tspan><tspan x="49" dy="30.72">COS0363</tspan><tspan x="49" dy="30.72">COS1140</tspan><tspan x="49" dy="30.72">COS0154</tspan><tspan x="49" dy="30.72">COS0753</tspan><tspan x="49" dy="30.72">COS0436</tspan></text>
</g>

<g id="R9" transform="translate(2748 0)">
<text class="ttl" x="0" y="353">R9</text>
<path class="bg" d="M-19 428A19 19 0 0 1 19 428V1718.24A19 19 0 0 1 -19 1718.24Z"/>
<g transform="translate(0 428) scale(1 15.36)">
<g class="seg"><rect class="k2" x="-19" y="0" width="38" height="1.7"/><rect class="k2" x="-19" y="7.2" width="38" height="11.3"/><rect class="k8" x="-19" y="23.2" width="38" height="10.7"/><rect class="k6" x="-19" y="36.2" width="38" height="2.8"/><rect class="k8" x="-19" y="74.5" width="38" height="1.3"/><rect class="k8" x="-19" y="81.7" width="38" height="2.3"/></g>
<g class="ln">
<path d="M-43 -0.15H-37L-19 0H19L37 -0.15H43"/><path d="M-43 1.85H-37L-19 1.7H19L37 1.85H43"/>
<path d="M-43 4.5H-37L-19 7.2H19L37 4.5H43"/><path d="M-43 6.5H-37L-19 9.2H19L37 6.5H43"/><path d="M-43 8.5H-37L-19 10.3H19L37 8.5H43"/><path d="M-43 10.5H-37L-19 11.9H19L37 10.5H43"/><path d="M-43 12.5H-37L-19 12.9H19L37 12.5H43"/><path d="M-43 14.5H-37L-19 13.3H19L37 14.5H43"/><path d="M-43 16.5H-37L-19 13.5H19L37 16.5H43"/><path d="M-43 18.5H43"/>
<path d="M-43 23H-37L-19 23.2H19L37 23H43"/><path d="M-43 25H-37L-19 25.4H19L37 25H43"/><path d="M-43 27H-37L-19 27H19L37 27H43"/><path d="M-43 29H-37L-19 28.4H19L37 29H43"/>
<path d="M-43 32.2H-37L-19 33.9H19L37 32.2H43"/><path d="M-43 34.2H-37L-19 35.3H19L37 34.2H43"/><path d="M-43 36.2H-37L-19 36.2H19L37 36.2H43"/><path d="M-43 38.2H-37L-19 37.8H19L37 38.2H43"/><path d="M-43 40.2H-37L-19 39H19L37 40.2H43"/><path d="M-43 42.2H-37L-19 40.7H19L37 42.2H43"/>
<path d="M-43 45.1H-37L-19 46H19L37 45.1H43"/><path d="M-43 47.1H-37L-19 47.1H19L37 47.1H43"/><path d="M-43 49.1H-37L-19 48.3H19L37 49.1H43"/><path d="M-43 51.1H-37L-19 48.9H19L37 51.1H43"/><path d="M-43 53.1H-37L-19 51.2H19L37 53.1H43"/><path d="M-43 55.1H-37L-19 53.5H19L37 55.1H43"/><path d="M-43 57.1H-37L-19 55.6H19L37 57.1H43"/><path d="M-43 68.3H43"/>
<path d="M-43 71.1H-37L-19 71.3H19L37 71.1H43"/><path d="M-43 73.1H-37L-19 74.5H19L37 73.1H43"/><path d="M-43 75.1H-37L-19 75.8H19L37 75.1H43"/><path d="M-43 77.1H-37L-19 77.9H19L37 77.1H43"/><path d="M-43 79.1H-37L-19 78.9H19L37 79.1H43"/><path d="M-43 81.1H-37L-19 81H19L37 81.1H43"/><path d="M-43 83.1H-37L-19 81.7H19L37 83.1H43"/><path d="M-43 85.1H-37L-19 84H19L37 85.1H43"/>
</g></g>
<path class="bar" d="M-19 428A19 19 0 0 1 19 428V1718.24A19 19 0 0 1 -19 1718.24Z"/>
<text class="lbl l"><tspan x="-51" y="436.2">0.0</tspan><tspan x="-51" dy="30.72">1.7</tspan><tspan x="-51" y="507.62">7.2</tspan><tspan x="-51" dy="30.72">9.2</tspan><tspan x="-51" dy="30.72">10.3</tspan><tspan x="-51" dy="30.72">11.9</tspan><tspan x="-51" dy="30.72">12.9</tspan><tspan x="-51" dy="30.72">13.3</tspan><tspan x="-51" dy="30.72">13.5</tspan><tspan x="-51" y="722.66">18.5</tspan><tspan x="-51" y="791.78">23.2</tspan><tspan x="-51" dy="30.72">25.4</tspan><tspan x="-51" dy="30.72">27.0</tspan><tspan x="-51" dy="30.72">28.4</tspan><tspan x="-51" y="933.09">33.9</tspan><tspan x="-51" dy="30.72">35.3</tspan><tspan x="-51" dy="30.72">36.2</tspan><tspan x="-51" dy="30.72">37.8</tspan><tspan x="-51" dy="30.72">39.0</tspan><tspan x="-51" dy="30.72">40.7</tspan><tspan x="-51" y="1131.24">46.0</tspan><tspan x="-51" dy="30.72">47.1</tspan><tspan x="-51" dy="30.72">48.3</tspan><tspan x="-51" dy="30.72">48.9</tspan><tspan x="-51" dy="30.72">51.2</tspan><tspan x="-51" dy="30.72">53.5</tspan><tspan x="-51" dy="30.72">55.6</tspan><tspan x="-51" y="1487.59">68.3</tspan><tspan x="-51" y="1530.6">71.3</tspan><tspan x="-51" dy="30.72">74.5</tspan><tspan x="-51" dy="30.72">75.8</tspan><tspan x="-51" dy="30.72">77.9</tspan><tspan x="-51" dy="30.72">78.9</tspan><tspan x="-51" dy="30.72">81.0</tspan><tspan x="-51" dy="30.72">81.7</tspan><tspan x="-51" dy="30.72">84.0</tspan></text>
<text class="lbl"><tspan x="49" y="436.2">COS0452</tspan><tspan x="49" dy="30.72">COS1142</tspan><tspan x="49" y="507.62">COS1052</tspan><tspan x="49" dy="30.72">COS0870</tspan><tspan x="49" dy="30.72">COS1029</tspan><tspan x="49" dy="30.72">COS0450</tspan><tspan x="49" dy="30.72">COS1042</tspan><tspan x="49" dy="30.72">COS0703</tspan><tspan x="49" dy="30.72">COS0613</tspan><tspan x="49" y="722.66">COS0695</tspan><tspan x="49" y="791.78">COS0429</tspan><tspan x="49" dy="30.72">COS1068</tspan><tspan x="49" dy="30.72">COS0091</tspan><tspan x="49" dy="30.72">COS0171</tspan><tspan x="49" y="933.09">COS0342</tspan><tspan x="49" dy="30.72">COS1171</tspan><tspan x="49" dy="30.72">COS0329</tspan><tspan x="49" dy="30.72">COS1104</tspan><tspan x="49" dy="30.72">COS0962</tspan><tspan x="49" dy="30.72">COS0540</tspan><tspan x="49" y="1131.24">COS0637</tspan><tspan x="49" dy="30.72">COS0413</tspan><tspan x="49" dy="30.72">COS0279</tspan><tspan x="49" dy="30.72">COS0275</tspan><tspan x="49" dy="30.72">COS0716</tspan><tspan x="49" dy="30.72">COS0640</tspan><tspan x="49" dy="30.72">COS1110</tspan><tspan x="49" y="1487.59">COS0714</tspan><tspan x="49" y="1530.6">COS0698</tspan><tspan x="49" dy="30.72">COS0480</tspan><tspan x="49" dy="30.72">COS1174</tspan><tspan x="49" dy="30.72">COS0377</tspan><tspan x="49" dy="30.72">COS1003</tspan><tspan x="49" dy="30.72">COS0398</tspan><tspan x="49" dy="30.72">COS0478</tspan><tspan x="49" dy="30.72">COS0032</tspan></text>
</g>

<g id="legend">
<rect class="k1" x="103" y="1857" width="37" height="37"/><text class="leg" x="177" y="1895">AK1</text>
<rect class="k2" x="103" y="1945" width="37" height="37"/><text class="leg" x="177" y="1983">AK2</text>
<rect class="k3" x="103" y="2032" width="37" height="37"/><text class="leg" x="177" y="2070">AK3</text>
<rect class="k4" x="103" y="2119" width="37" height="37"/><text class="leg" x="177" y="2157">AK4</text>
<rect class="k5" x="362" y="1857" width="37" height="37"/><text class="leg" x="436" y="1895">AK5</text>
<rect class="k6" x="362" y="1945" width="37" height="37"/><text class="leg" x="436" y="1983">AK6</text>
<rect class="k7" x="362" y="2032" width="37" height="37"/><text class="leg" x="436" y="2070">AK7</text>
<rect class="k8" x="362" y="2119" width="37" height="37"/><text class="leg" x="436" y="2157">AK8</text>
</g>
</svg>
